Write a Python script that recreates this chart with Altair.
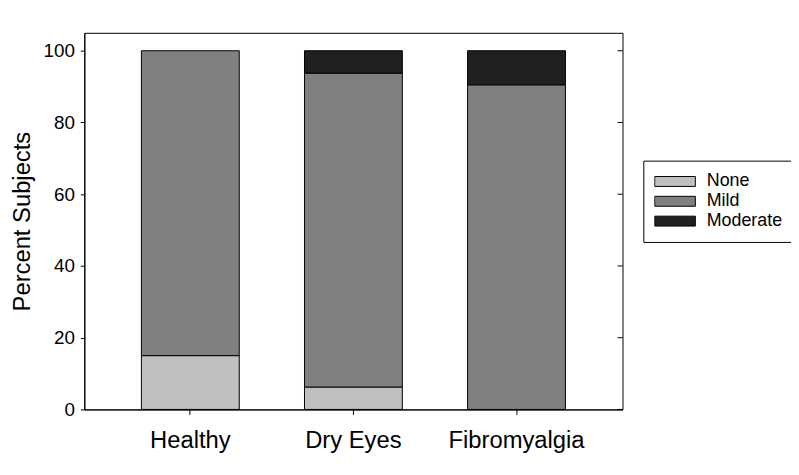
import altair as alt
import pandas as pd

categories = ["Healthy", "Dry Eyes", "Fibromyalgia"]
severity = ["None", "Mild", "Moderate"]
none_pct = [15.0, 6.25, 0.0]
mild_pct = [85.0, 87.5, 90.5]
moderate_pct = [0.0, 6.25, 9.5]
colors = ["#c0c0c0", "#808080", "#202020"]
y_ticks = [0, 20, 40, 60, 80, 100]

rows = []
for i, c in enumerate(categories):
    for j, (s, vals) in enumerate(zip(severity, [none_pct, mild_pct, moderate_pct])):
        if vals[i] > 0:
            rows.append({"group": c, "severity": s, "order": j, "pct": vals[i]})
df = pd.DataFrame(rows)

W, H = 543, 380
FONT = "Liberation Sans"

yscale = alt.Scale(domain=[0, 105], nice=False, zero=True)
yaxis = alt.Axis(values=y_ticks, title="Percent Subjects", titleFontSize=24,
                 titleFontWeight="normal", titlePadding=9, labelFontSize=19,
                 labelPadding=6, tickSize=4, labelFont=FONT, titleFont=FONT)

bars = alt.Chart(df).mark_bar(stroke="black", strokeWidth=1, opacity=1).encode(
    x=alt.X("group:N", sort=categories,
            scale=alt.Scale(paddingInner=0.4, paddingOuter=0.35),
            axis=alt.Axis(title=None, labelAngle=0, labelFontSize=24, labelPadding=14,
                          tickSize=5, labelFont=FONT)),
    y=alt.Y("pct:Q", stack="zero", scale=yscale, axis=yaxis),
    color=alt.Color("severity:N", sort=severity,
                    scale=alt.Scale(domain=severity, range=colors),
                    legend=alt.Legend(title=None, orient="none", legendX=564, legendY=129,
                                      strokeColor="black", fillColor="white", padding=11,
                                      labelFontSize=18, labelFont=FONT, labelOffset=11,
                                      symbolType="M-1,-0.244H1V0.244H-1Z", symbolSize=1681,
                                      symbolStrokeColor="black", symbolStrokeWidth=1,
                                      symbolOpacity=1, rowPadding=0, clipHeight=20)),
    order=alt.Order("order:Q"),
)

ticks_df = pd.DataFrame({"v": y_ticks})
rticks = alt.Chart(ticks_df).mark_rule(color="black", strokeWidth=1).encode(
    y=alt.Y("v:Q", scale=yscale, axis=yaxis),
    x=alt.value(W - 5),
    x2=alt.value(W),
)

chart = alt.layer(bars, rticks).properties(
    width=W, height=H,
    autosize=alt.AutoSizeParams(type="none"),
    padding={"left": 77, "top": 23, "right": 170, "bottom": 50},
).configure_view(stroke="black", strokeWidth=1).configure_axis(
    domainColor="black", tickColor="black", labelColor="black", titleColor="black",
    grid=False, domainWidth=1, tickWidth=1,
).configure_legend(labelColor="black")

chart.save("out.html", embed_options={"renderer": "svg", "actions": False})
